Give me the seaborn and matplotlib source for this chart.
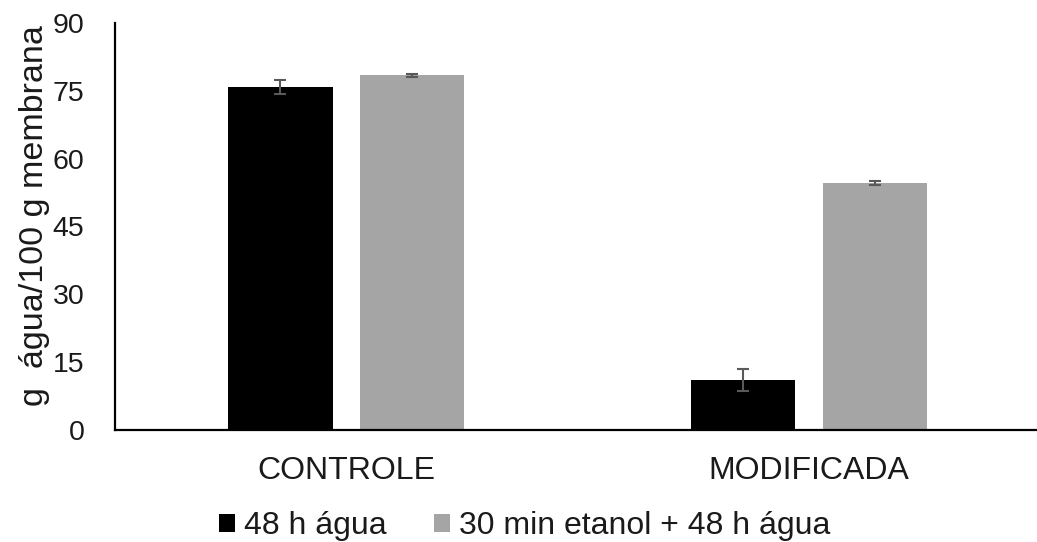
import matplotlib
matplotlib.use("Agg")
import matplotlib.pyplot as plt
import seaborn as sns
import pandas as pd
from matplotlib.patches import Patch

categories = ["CONTROLE", "MODIFICADA"]
series = ["48 h água", "30 min etanol + 48 h água"]
values_48h = [75.8, 11.0]
values_etanol = [78.4, 54.6]
err_48h = [1.5, 2.4]
err_etanol = [0.3, 0.5]
yticks = [0, 15, 30, 45, 60, 75, 90]

colors = {series[0]: "#000000", series[1]: "#A5A5A5"}

sns.set_theme(style="white")
plt.rcParams["font.family"] = ["Liberation Sans", "DejaVu Sans"]

df = pd.DataFrame({
    "cat": categories * 2,
    "serie": [series[0]] * 2 + [series[1]] * 2,
    "val": values_48h + values_etanol,
    "err": err_48h + err_etanol,
})

FS = 23
W, H = 1037, 542
fig = plt.figure(figsize=(W / 100, H / 100), dpi=100)
left, right, bottom, top = 115, 1037, 430, 23
ax = fig.add_axes([left / W, 1 - bottom / H, (right - left) / W, (bottom - top) / H])

sns.barplot(data=df, x="cat", y="val", hue="serie", order=categories,
            hue_order=series, palette=colors, width=0.57, gap=0.21,
            errorbar=None, saturation=1, ax=ax, legend=False, linewidth=0)

# error bars at bar centres
for i, s in enumerate(series):
    sub = df[df.serie == s]
    conts = ax.containers[i]
    for bar, (_, row) in zip(conts, sub.iterrows()):
        cx = bar.get_x() + bar.get_width() / 2
        ax.errorbar(cx, row.val, yerr=row.err, fmt="none", ecolor="#595959",
                    elinewidth=1.5, capsize=4, capthick=1.5, zorder=5)

ax.set_ylim(0, 90)
ax.set_yticks(yticks)
ax.set_xlim(-0.5, 1.4925)
ax.set_xlabel("")
ax.set_ylabel("g  água/100 g membrana", fontsize=24.5, color="#1a1a1a")
ax.yaxis.set_label_coords(-(115 - 50) / (right - left), 0.528)
ax.tick_params(axis="y", length=0, pad=22, labelsize=20.5, labelcolor="#1a1a1a")
ax.tick_params(axis="x", length=0, pad=19, labelsize=FS, labelcolor="#1a1a1a")

for sp in ["top", "right"]:
    ax.spines[sp].set_visible(False)
for sp in ["left", "bottom"]:
    ax.spines[sp].set_color("#000000")
    ax.spines[sp].set_linewidth(1.6)
    ax.spines[sp].set_zorder(6)

handles = [Patch(facecolor=colors[s], edgecolor="none") for s in series]
fig.legend(handles, series, loc="center", bbox_to_anchor=(524.5 / W, 1 - 526 / H),
           ncol=2, frameon=False, fontsize=FS, handlelength=0.5, handleheight=0.5,
           handletextpad=0.28, columnspacing=1.5, labelcolor="#1a1a1a")

fig.savefig("out.png", dpi=100, facecolor="white")
